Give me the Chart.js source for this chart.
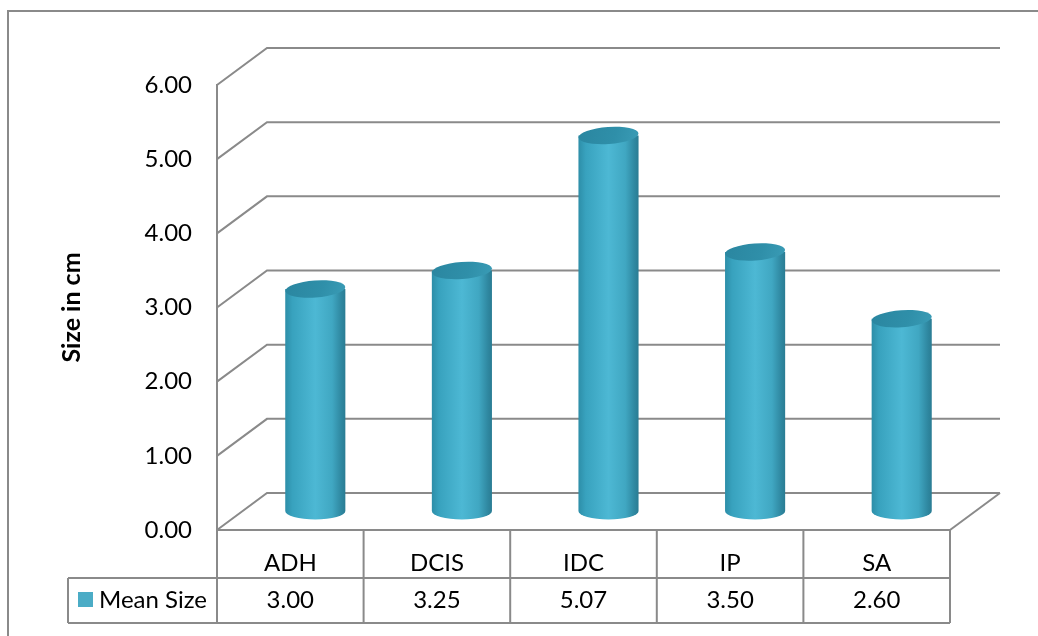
<!DOCTYPE html>
<html>
<head>
<meta charset="utf-8">
<script src="https://cdn.jsdelivr.net/npm/chart.js@4.4.1/dist/chart.umd.min.js"></script>
<style>
  html, body { margin: 0; padding: 0; background: #fff; }
  canvas { display: block; }
</style>
</head>
<body>
<canvas id="sizeChart" width="1038" height="636"></canvas>
<script>
const categories = ['ADH', 'DCIS', 'IDC', 'IP', 'SA'];
const meanSize = [3.00, 3.25, 5.07, 3.50, 2.60];
const seriesName = 'Mean Size';
const yTicks = [0, 1, 2, 3, 4, 5, 6];
const yTitle = 'Size in cm';

const FONT = 'Lato';
const LINE = '#8a8a8a';
const SWATCH = '#4bacc6';
// depth of the 3d box (back wall offset from the front plane)
const DX = 50, DY = -37;

// back wall gridlines + floor, drawn behind the cylinders
const wallsPlugin = {
    id: 'walls',
    beforeDatasetsDraw(chart) {
        const { ctx, chartArea: a } = chart;
        const y = chart.scales.y;
        ctx.save();
        ctx.strokeStyle = LINE;
        ctx.lineWidth = 2;
        yTicks.forEach(v => {
            const py = y.getPixelForValue(v);
            ctx.beginPath();
            ctx.moveTo(a.left, py);
            ctx.lineTo(a.left + DX, py + DY);
            ctx.lineTo(a.right + DX, py + DY);
            ctx.stroke();
        });
        const p0 = y.getPixelForValue(0);
        ctx.beginPath();
        ctx.moveTo(a.right + DX, p0 + DY);
        ctx.lineTo(a.right, p0);
        ctx.stroke();
        ctx.restore();
    }
};

// cylinders placed half way into the box depth
const cylinderPlugin = {
    id: 'cylinders',
    afterDatasetsDraw(chart) {
        const ctx = chart.ctx;
        const meta = chart.getDatasetMeta(0);
        meta.data.forEach(bar => {
            const cx = bar.x + DX / 2;
            const top = bar.y + DY / 2;
            const base = bar.base + DY / 2;
            const rx = bar.width / 2;
            const ry = 8.5;
            const left = cx - rx, right = cx + rx;

            const body = ctx.createLinearGradient(left, 0, right, 0);
            body.addColorStop(0, '#2d8ea8');
            body.addColorStop(0.12, '#38a2be');
            body.addColorStop(0.5, '#4db8d4');
            body.addColorStop(0.78, '#40a7c2');
            body.addColorStop(0.93, '#2f88a1');
            body.addColorStop(1, '#2a7c93');

            ctx.save();
            ctx.fillStyle = body;
            ctx.beginPath();
            ctx.moveTo(left, top);
            ctx.lineTo(left, base);
            ctx.ellipse(cx, base, rx, ry, 0, Math.PI, 0, true);
            ctx.lineTo(right, top);
            ctx.closePath();
            ctx.fill();

            const cap = ctx.createLinearGradient(left, top - ry, right, top + ry);
            cap.addColorStop(0, '#2a86a0');
            cap.addColorStop(0.6, '#2f8fa9');
            cap.addColorStop(1, '#3a9cb6');
            ctx.fillStyle = cap;
            ctx.beginPath();
            ctx.ellipse(cx, top, rx, ry, -0.07, 0, Math.PI * 2);
            ctx.fill();
            ctx.restore();
        });
    }
};

// data table under the plot plus the outer frame
const tablePlugin = {
    id: 'dataTable',
    afterDraw(chart) {
        const { ctx, chartArea: a } = chart;
        const x = chart.scales.x;
        const step = (a.right - a.left) / categories.length;
        const top = a.bottom, mid = top + 48, bot = mid + 45;
        const legendLeft = 68;

        ctx.save();
        ctx.strokeStyle = LINE;
        ctx.lineWidth = 2;
        ctx.beginPath();
        ctx.moveTo(a.left, top); ctx.lineTo(a.right, top);
        ctx.moveTo(legendLeft, mid); ctx.lineTo(a.right, mid);
        ctx.moveTo(legendLeft, bot); ctx.lineTo(a.right, bot);
        for (let i = 0; i <= categories.length; i++) {
            const xb = a.left + i * step;
            ctx.moveTo(xb, top); ctx.lineTo(xb, bot);
        }
        ctx.moveTo(legendLeft, mid); ctx.lineTo(legendLeft, bot);
        ctx.stroke();

        ctx.strokeRect(8, 11, 1100, 700);

        ctx.fillStyle = '#000';
        ctx.font = '24px ' + FONT;
        ctx.textBaseline = 'middle';
        ctx.textAlign = 'center';
        categories.forEach((c, i) => {
            const px = x.getPixelForValue(i);
            ctx.fillText(c, px, top + 33);
            ctx.fillText(meanSize[i].toFixed(2), px, mid + 22);
        });

        ctx.fillStyle = SWATCH;
        ctx.fillRect(78, mid + 14, 15, 15);
        ctx.fillStyle = '#000';
        ctx.textAlign = 'left';
        ctx.fillText(seriesName, 99, mid + 22);
        ctx.restore();
    }
};

new Chart(document.getElementById('sizeChart'), {
    type: 'bar',
    data: {
        labels: categories,
        datasets: [{
            label: seriesName,
            data: meanSize,
            backgroundColor: 'rgba(0,0,0,0)',
            borderWidth: 0,
            barPercentage: 0.41,
            categoryPercentage: 1
        }]
    },
    options: {
        responsive: false,
        animation: false,
        devicePixelRatio: 1,
        layout: { padding: { left: 8, top: 85, right: 88, bottom: 106 } },
        plugins: { legend: { display: false }, tooltip: { enabled: false } },
        scales: {
            x: { display: false },
            y: {
                min: 0,
                max: 6,
                afterBuildTicks: s => { s.ticks = yTicks.map(v => ({ value: v })); },
                afterFit: s => { s.width = 209; },
                ticks: {
                    padding: 25,
                    color: '#000',
                    font: { family: FONT, size: 24 },
                    callback: v => Number(v).toFixed(2)
                },
                grid: { drawOnChartArea: false, drawTicks: false },
                border: { color: LINE, width: 2 },
                title: {
                    display: true,
                    text: yTitle,
                    color: '#000',
                    font: { family: FONT, size: 25, weight: 'bold' },
                    padding: { top: 49, bottom: 0 }
                }
            }
        }
    },
    plugins: [wallsPlugin, cylinderPlugin, tablePlugin]
});
</script>
</body>
</html>
